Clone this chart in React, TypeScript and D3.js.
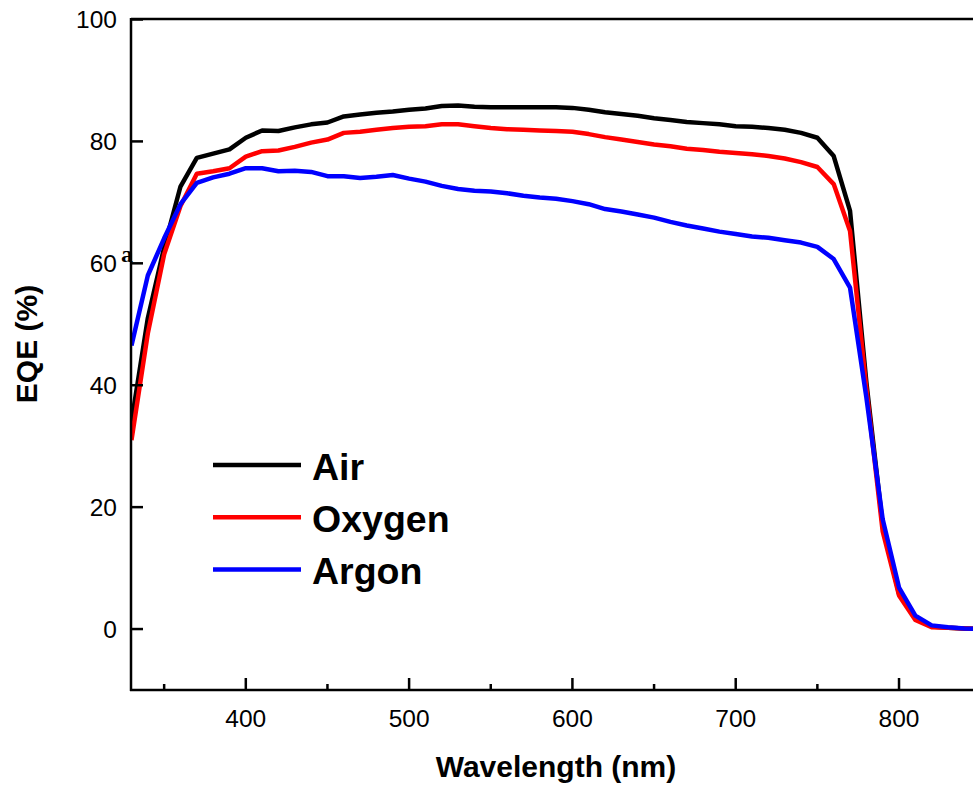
import React from "react";
import * as d3 from "d3";

const wavelengths = [330,340,350,360,370,380,390,400,410,420,430,440,450,460,470,480,490,500,510,520,530,540,550,560,570,580,590,600,610,620,630,640,650,660,670,680,690,700,710,720,730,740,750,760,770,780,790,800,810,820,830,840,850];

const airEQE = [34,51,62.6,72.6,77.3,78.0,78.7,80.6,81.8,81.7,82.3,82.8,83.1,84.1,84.4,84.7,84.9,85.2,85.4,85.8,85.9,85.7,85.6,85.6,85.6,85.6,85.6,85.5,85.2,84.8,84.5,84.2,83.8,83.5,83.2,83.0,82.8,82.5,82.4,82.2,81.9,81.4,80.6,77.6,68.6,40.5,17,5.8,1.8,0.4,0.2,0.1,0];
const oxygenEQE = [31,48.5,61.5,69.4,74.7,75.1,75.6,77.5,78.4,78.5,79.1,79.8,80.3,81.4,81.6,81.9,82.2,82.4,82.5,82.8,82.8,82.5,82.2,82.0,81.9,81.8,81.7,81.6,81.2,80.7,80.3,79.9,79.5,79.2,78.8,78.6,78.3,78.1,77.9,77.6,77.2,76.6,75.8,73.0,65.3,39.5,16,5.5,1.5,0.3,0.2,0.1,0];
const argonEQE = [46.5,58,64.1,69.7,73.2,74.1,74.7,75.6,75.6,75.1,75.2,75.0,74.3,74.3,74.0,74.2,74.5,73.9,73.4,72.7,72.2,71.9,71.8,71.5,71.1,70.8,70.6,70.2,69.7,68.9,68.5,68.0,67.5,66.8,66.2,65.7,65.2,64.8,64.4,64.2,63.8,63.4,62.7,60.7,56.0,38,18,6.8,2.2,0.6,0.3,0.1,0];

const seriesNames = ["Air", "Oxygen", "Argon"];
const seriesColors = ["#000000", "#ff0000", "#0000ff"];
const seriesData = [airEQE, oxygenEQE, argonEQE];

const xMajorTicks = [400, 500, 600, 700, 800];
const xMinorTicks = [350, 450, 550, 650, 750, 850];
const yTicks = [0, 20, 40, 60, 80, 100];

export default function App() {
  const W = 973, H = 793;
  const left = 131, right = 973, top = 19, bottom = 690;
  const x = d3.scaleLinear().domain([329.7, 845.3]).range([left, right]);
  const y = d3.scaleLinear().domain([-10, 100]).range([bottom, top + 0.5]);
  const line = d3.line<number>()
    .x((_, i) => x(wavelengths[i]))
    .y((d) => y(d));
  const font = "Arial, 'Liberation Sans', sans-serif";
  return (
    <svg width={W} height={H} style={{ position: "absolute", left: 0, top: 0, background: "#fff" }}>
      <defs>
        <clipPath id="plot">
          <rect x={left} y={top} width={right - left} height={bottom - top} />
        </clipPath>
      </defs>
      <g clipPath="url(#plot)">
        {seriesData.map((d, i) => (
          <path key={i} d={line(d) || ""} fill="none" stroke={seriesColors[i]} strokeWidth={4.5} strokeLinejoin="round" />
        ))}
      </g>
      {/* axes */}
      <line x1={left} x2={right} y1={top} y2={top} stroke="#000" strokeWidth={2.5} />
      <line x1={left} x2={left} y1={top - 1} y2={bottom + 1} stroke="#000" strokeWidth={2.5} />
      <line x1={left - 1} x2={right} y1={bottom} y2={bottom} stroke="#000" strokeWidth={2.5} />
      {yTicks.map((t) => (
        <g key={t}>
          <line x1={left} x2={left + 12} y1={y(t)} y2={y(t)} stroke="#000" strokeWidth={2.5} />
          <text x={117} y={y(t)} dy="0.36em" textAnchor="end" fontFamily={font} fontSize={24.5}>{t}</text>
        </g>
      ))}
      {xMajorTicks.map((t) => (
        <g key={t}>
          <line x1={x(t)} x2={x(t)} y1={bottom} y2={bottom - 12} stroke="#000" strokeWidth={2.5} />
          <text x={x(t)} y={727} textAnchor="middle" fontFamily={font} fontSize={24.5}>{t}</text>
        </g>
      ))}
      {xMinorTicks.map((t) => (
        <line key={t} x1={x(t)} x2={x(t)} y1={bottom} y2={bottom - 6} stroke="#000" strokeWidth={2.5} />
      ))}
      <text x={556} y={777} textAnchor="middle" fontFamily={font} fontSize={30} fontWeight="bold">Wavelength (nm)</text>
      <text transform="translate(37,344) rotate(-90)" textAnchor="middle" fontFamily={font} fontSize={30} fontWeight="bold">EQE (%)</text>
      <text x={121} y={262} fontFamily="'Liberation Serif', 'DejaVu Serif', serif" fontSize={24} fontWeight="bold">a</text>
      {/* legend */}
      {seriesNames.map((n, i) => (
        <g key={n}>
          <line x1={213} x2={301} y1={465 + i * 52.2} y2={465 + i * 52.2} stroke={seriesColors[i]} strokeWidth={4.5} />
          <text x={312} y={480 + i * 52.2} fontFamily={font} fontSize={37.5} fontWeight="bold">{n}</text>
        </g>
      ))}
    </svg>
  );
}
